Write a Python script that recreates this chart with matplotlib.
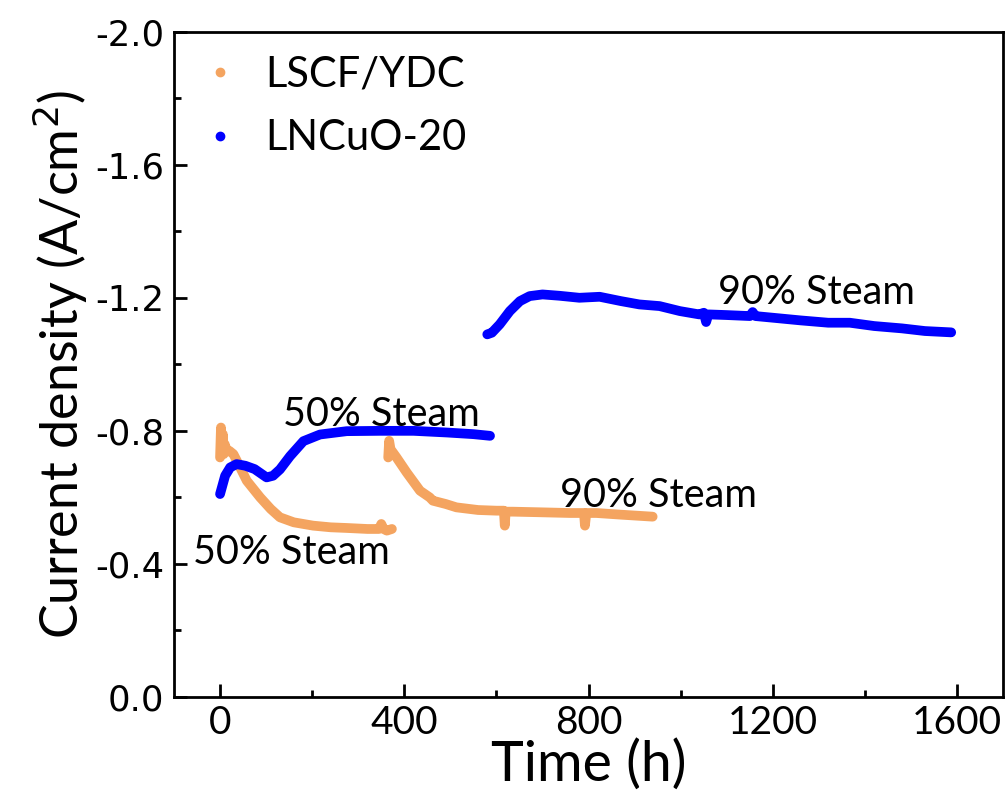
import matplotlib.pyplot as plt
from matplotlib.lines import Line2D

plt.rcParams['axes.unicode_minus'] = False

# LSCF/YDC, 50% steam
lscf_t1 = [0, 2, 4, 6, 8, 10, 15, 20, 29, 40, 58, 87, 110, 130, 160, 202, 240, 275, 320, 345, 350, 355, 362, 373]
lscf_j1 = [-0.72, -0.81, -0.74, -0.79, -0.73, -0.76, -0.74, -0.74, -0.73, -0.70, -0.65, -0.60, -0.565, -0.54,
           -0.525, -0.515, -0.51, -0.508, -0.505, -0.505, -0.52, -0.505, -0.50, -0.505]

# LSCF/YDC, 90% steam
lscf_t2 = [365, 367, 370, 383, 405, 434, 455, 462, 490, 513, 560, 600, 616, 618, 620, 636, 700, 760,
           790, 792, 795, 817, 870, 939]
lscf_j2 = [-0.72, -0.77, -0.745, -0.72, -0.675, -0.62, -0.60, -0.59, -0.58, -0.57, -0.562, -0.56, -0.56,
           -0.515, -0.557, -0.557, -0.555, -0.553, -0.553, -0.515, -0.553, -0.553, -0.548, -0.542]

# LNCuO-20, 50% steam
lncuo_t1 = [0, 5, 11, 22, 36, 55, 75, 101, 115, 130, 152, 181, 217, 275, 347, 420, 492, 550, 586]
lncuo_j1 = [-0.61, -0.635, -0.665, -0.69, -0.70, -0.695, -0.685, -0.66, -0.665, -0.684, -0.724, -0.769,
            -0.789, -0.799, -0.80, -0.80, -0.795, -0.79, -0.785]

# LNCuO-20, 90% steam
lncuo_t2 = [580, 590, 607, 629, 651, 672, 700, 737, 780, 824, 870, 910, 954, 998, 1040, 1050, 1055, 1060,
            1100, 1150, 1156, 1162, 1200, 1260, 1320, 1367, 1420, 1480, 1530, 1587]
lncuo_j2 = [-1.09, -1.095, -1.12, -1.16, -1.19, -1.205, -1.21, -1.206, -1.20, -1.203, -1.19, -1.18, -1.175,
            -1.16, -1.15, -1.155, -1.127, -1.15, -1.148, -1.145, -1.157, -1.145, -1.14, -1.132, -1.125,
            -1.125, -1.115, -1.108, -1.10, -1.096]

orange = '#F4A460'
blue = '#0000FF'
lab_font = 'Lato'

fig = plt.figure(figsize=(10.08, 7.99), dpi=100)
ax = fig.add_axes([0.1726, 0.1277, 0.8227, 0.8327])

for t, j in [(lscf_t1, lscf_j1), (lscf_t2, lscf_j2)]:
    ax.plot(t, j, color=orange, lw=7, solid_capstyle='round', solid_joinstyle='round')
for t, j in [(lncuo_t1, lncuo_j1), (lncuo_t2, lncuo_j2)]:
    ax.plot(t, j, color=blue, lw=7, solid_capstyle='round', solid_joinstyle='round')

ax.set_xlim(-100, 1700)
ax.set_ylim(0, -2)
ax.set_xticks([0, 400, 800, 1200, 1600])
ax.set_xticks([200, 600, 1000, 1400], minor=True)
ax.set_yticks([0, -0.4, -0.8, -1.2, -1.6, -2.0])
ax.set_yticks([-0.2, -0.6, -1.0, -1.4, -1.8], minor=True)
ax.set_yticklabels(['0.0', '-0.4', '-0.8', '-1.2', '-1.6', '-2.0'], family='DejaVu Sans', fontsize=25.5)
ax.set_xticklabels(['0', '400', '800', '1200', '1600'], family=lab_font, fontsize=28)

ax.tick_params(which='both', direction='in', width=2.0, top=False, right=False)
ax.tick_params(which='major', length=9.4)
ax.tick_params(which='minor', length=5)
ax.tick_params(axis='y', pad=7)
ax.tick_params(axis='x', pad=6)
for s in ax.spines.values():
    s.set_linewidth(2.0)

ax.set_xlabel('Time (h)', family=lab_font, fontsize=40, labelpad=-2)
ax.set_ylabel('Current density (A/cm$^2$)', family=lab_font, fontsize=37.5, labelpad=4)

txt = dict(family=lab_font, fontsize=28.5, ha='left', va='baseline')
ax.text(-58, -0.40, '50% Steam', **txt)
ax.text(137, -0.816, '50% Steam', **txt)
ax.text(737, -0.572, '90% Steam', **txt)
ax.text(1080, -1.18, '90% Steam', **txt)

handles = [Line2D([], [], ls='none', marker='o', ms=6, color=orange, label='LSCF/YDC'),
           Line2D([], [], ls='none', marker='o', ms=6, color=blue, label='LNCuO-20')]
ax.legend(handles=handles, loc='upper left', bbox_to_anchor=(0.03, 0.964), frameon=False,
          borderpad=0, borderaxespad=0, handlelength=1.0, handletextpad=0.6, labelspacing=0.62,
          prop={'family': lab_font, 'size': 30})

fig.savefig('out.png', dpi=100)
